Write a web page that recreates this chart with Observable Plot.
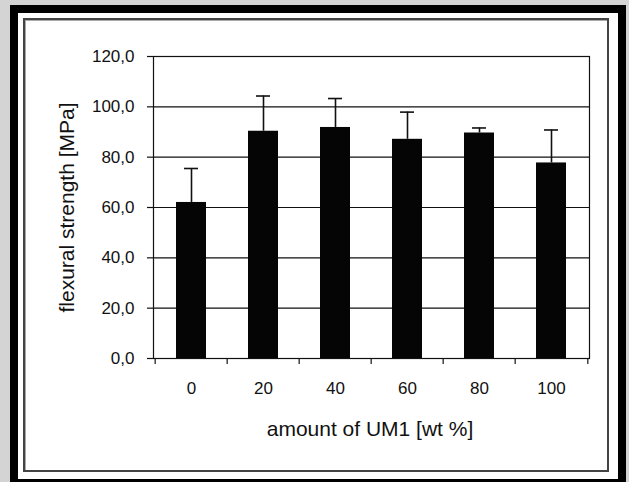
<!DOCTYPE html>
<html><head><meta charset="utf-8">
<script src="https://cdn.jsdelivr.net/npm/d3@7"></script>
<script src="https://cdn.jsdelivr.net/npm/@observablehq/plot@0.6"></script>
<style>
html,body{margin:0;padding:0;background:#d4d4d4;width:629px;height:482px;overflow:hidden;}
#outer{position:absolute;left:10px;top:5px;width:616px;height:482px;box-sizing:border-box;border:8px solid #000;background:#fff;}
#inner{position:absolute;left:23px;top:18px;width:586px;height:454px;box-sizing:border-box;border:2px solid #444;box-shadow:inset 1px 1px 0 #aaa;}
#chart{position:absolute;left:0;top:0;}
</style></head><body>
<div id="outer"></div><div id="inner"></div><div id="chart"></div>
<script>
const categories = ["0", "20", "40", "60", "80", "100"];
const values = [62.0, 90.3, 91.8, 87.1, 89.6, 77.7];
const errors = [13.5, 14.0, 11.5, 10.8, 2.0, 13.1];
const yTicks = [0, 20, 40, 60, 80, 100, 120];
const xTitle = "amount of UM1 [wt %]";
const yTitle = "flexural strength [MPa]";

const data = categories.map((c, i) => ({c, v: values[i], top: values[i] + errors[i]}));

const W = 629, H = 482, mL = 153, mR = 40, mT = 56, mB = 124;
const step = (W - mL - mR) / categories.length;
const ink = "#111";

const chart = Plot.plot({
  width: W, height: H,
  marginLeft: mL, marginRight: mR, marginTop: mT, marginBottom: mB,
  style: {fontFamily: "'Liberation Sans', Arial, sans-serif", fontSize: "17px", background: "transparent", color: ink, overflow: "visible"},
  x: {type: "band", domain: categories, paddingInner: 0.587, paddingOuter: 0.2935, align: 0.5},
  y: {domain: [0, 120]},
  marks: [
    Plot.gridY(yTicks, {stroke: ink, strokeOpacity: 1, strokeWidth: 1.2}),
    Plot.barY(data, {x: "c", y: "v", fill: "#050505"}),
    Plot.ruleX(data, {x: "c", y1: "v", y2: "top", stroke: ink, strokeWidth: 1.6}),
    Plot.tickY(data, {x: "c", y: "top", stroke: ink, strokeWidth: 1.6, insetLeft: 8, insetRight: 8}),
    Plot.frame({stroke: ink, strokeWidth: 1.2}),
    Plot.axisY({ticks: yTicks, tickSize: 6, tickPadding: 13, tickFormat: d => d.toFixed(1).replace(".", ","), fontSize: 17, label: null, strokeWidth: 1.2}),
    Plot.axisX({tickSize: 0, tickPadding: 23, fontSize: 17, label: null}),
    Plot.ruleX(categories, {x: d => d, y1: 0, y2: 0, insetBottom: -6, dx: -step / 2, stroke: ink, strokeWidth: 1.2}),
    Plot.ruleX(categories.slice(-1), {x: d => d, y1: 0, y2: 0, insetBottom: -6, dx: step / 2, stroke: ink, strokeWidth: 1.2}),
    Plot.text([xTitle], {frameAnchor: "bottom", textAnchor: "middle", lineAnchor: "middle", dy: 71, dx: -1.5, fontSize: 21, fill: ink}),
    Plot.text([yTitle], {frameAnchor: "left", rotate: -90, textAnchor: "middle", lineAnchor: "middle", dx: -86, fontSize: 21, fill: ink})
  ]
});
document.getElementById("chart").appendChild(chart);
</script>
</body></html>
